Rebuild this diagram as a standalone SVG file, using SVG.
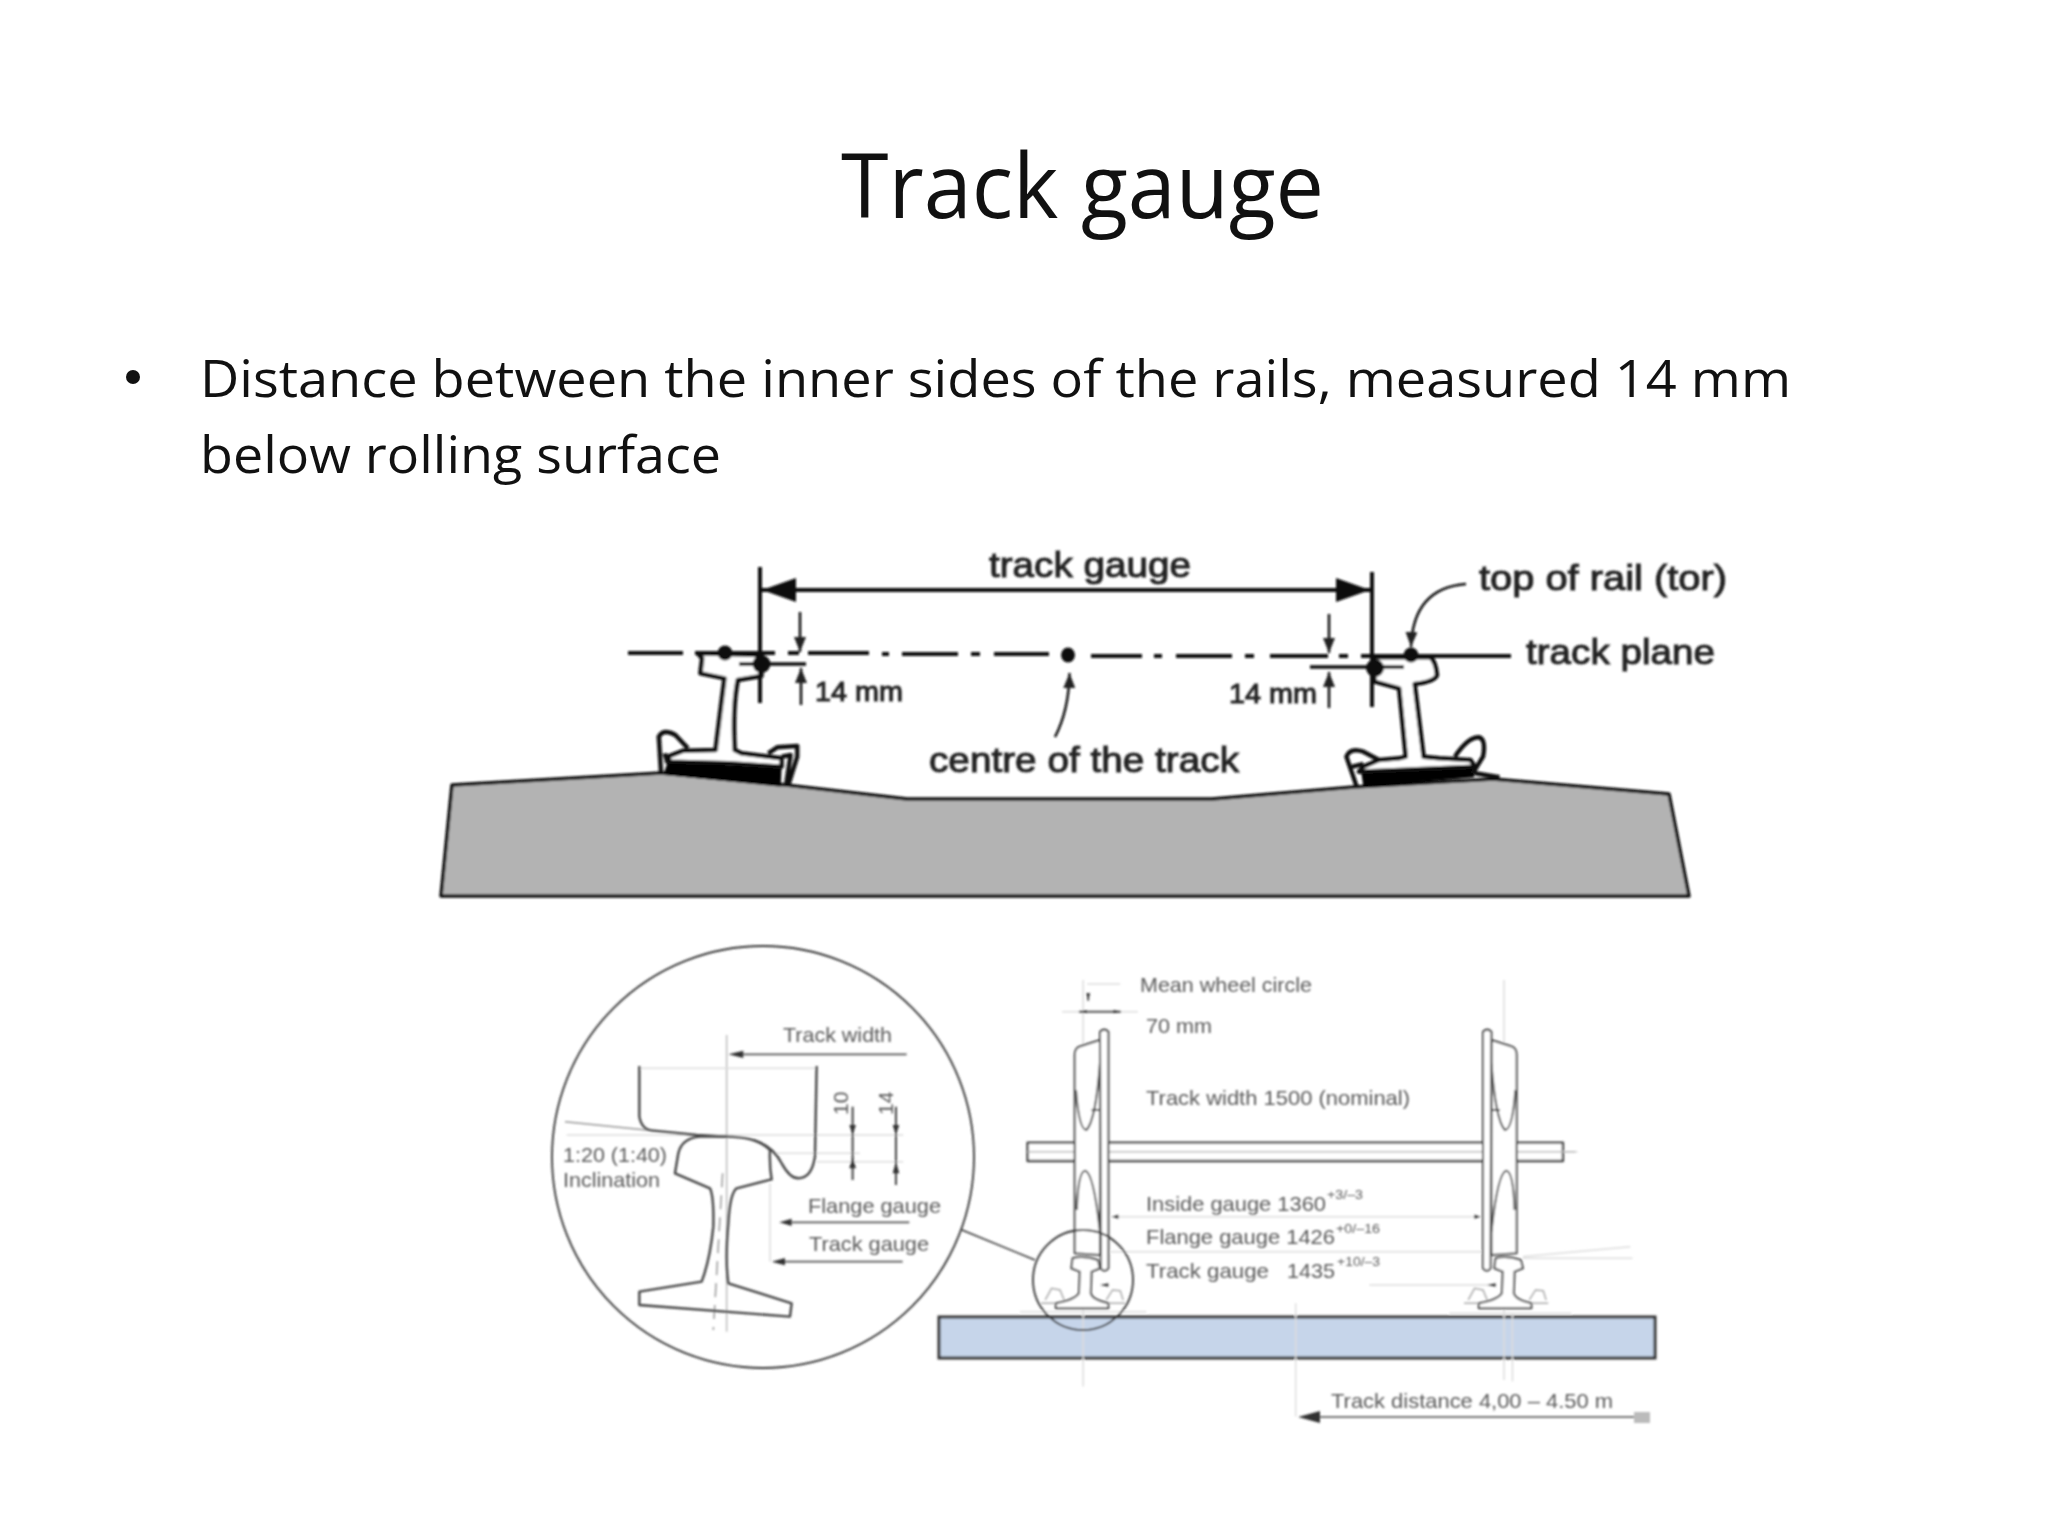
<svg xmlns="http://www.w3.org/2000/svg" xmlns:xlink="http://www.w3.org/1999/xlink" width="2048" height="1536" viewBox="0 0 2048 1536">
<style>
.head{font-family:"Open Sans","Noto Sans",sans-serif;fill:#111}
.lab{font-family:"Liberation Sans",Arial,sans-serif;fill:#222;stroke:#222;stroke-width:1}
.sm{font-family:"Liberation Sans",Arial,sans-serif;fill:#5a5a5a;font-size:21px}
.ns{vector-effect:non-scaling-stroke}
.k{fill:none;stroke:#111;stroke-width:4.500;stroke-linejoin:round;vector-effect:non-scaling-stroke}
.kw{fill:#fff;stroke:#111;stroke-width:4.500;stroke-linejoin:round;vector-effect:non-scaling-stroke}
.d{fill:none;stroke:#111;stroke-width:2.500}
.g{fill:none;stroke:#444;stroke-width:2;vector-effect:non-scaling-stroke;stroke-linejoin:round}
.gw{fill:#fff;stroke:#444;stroke-width:2;vector-effect:non-scaling-stroke;stroke-linejoin:round}
.f{fill:none;stroke:#ddd;stroke-width:1.500;vector-effect:non-scaling-stroke}
</style>
<defs>
<filter id="soft" x="-5%" y="-5%" width="110%" height="110%"><feGaussianBlur stdDeviation="0.8"/></filter>
<filter id="soft2" x="-5%" y="-5%" width="110%" height="110%"><feGaussianBlur stdDeviation="1"/></filter>
<marker id="big" markerWidth="36" markerHeight="24" refX="34" refY="12" orient="auto-start-reverse" markerUnits="userSpaceOnUse"><path d="M0,0 L34,12 L0,24 Z" fill="#111"/></marker>
<marker id="mid" markerWidth="16" markerHeight="12" refX="15" refY="6" orient="auto-start-reverse" markerUnits="userSpaceOnUse"><path d="M0,0 L15,6 L0,12 Z" fill="#222"/></marker>
<g id="wheel">
<path class="gw" d="M190,240 L145,258 Q130,262 130,285 L130,880 L190,885 Z"/>
<path class="g" d="M133,390 Q140,510 158,510 Q180,480 190,310 M190,450 L170,450 M135,750 Q138,632 155,632 Q175,640 190,815"/>
<path class="gw" d="M190,215 Q200,203 210,215 L210,925 Q200,940 192,925 Z"/>
</g>
<g id="smallrail">
<path class="gw" d="M125,895 Q150,885 185,900 L190,925 L170,935 L168,1000 Q172,1020 210,1030 L210,1045 L85,1045 L85,1030 Q130,1020 140,1000 L142,935 L122,925 Z"/>
<path class="f" style="stroke:#aaa" d="M60,1020 L75,985 L95,990 L105,1020 M205,1020 L220,990 L238,992 L245,1020 M50,1030 H85 M210,1030 H250"/>
</g>
</defs>
<rect width="2048" height="1536" fill="#fff"/>
<g id="title"><text class="head" x="841" y="218" font-size="90" textLength="483" lengthAdjust="spacingAndGlyphs">Track gauge</text></g>
<g id="body">
<circle cx="133" cy="377" r="7" fill="#111"/>
<text class="head" x="200" y="397" font-size="52" textLength="1591" lengthAdjust="spacingAndGlyphs">Distance between the inner sides of the rails, measured 14 mm</text>
<text class="head" x="200" y="473" font-size="52" textLength="521" lengthAdjust="spacingAndGlyphs">below rolling surface</text>
</g>
<g id="track-section" filter="url(#soft)">
<path d="M452,785 L661,773 L786,785 L907,799 L1212,799 L1354,787 L1493,779 L1669,794 L1689,896 L441,896 Z" fill="#b3b3b3" stroke="#111" stroke-width="3.500" stroke-linejoin="round"/>
<g id="rail-left" transform="translate(420 540) scale(.4464 .3333)">
<path d="M555,665 L810,685 L808,740 L545,704 Z" fill="#000"/>
<path class="k" d="M540,700 L535,590 Q545,565 572,585 L600,625 M548,640 L555,670 M780,640 L800,622 L845,618 L845,650 L825,735 M810,650 L830,645 L820,735"/>
<path class="kw" d="M622,340 L632,355 L628,400 L682,415 Q670,540 662,630 L590,632 L555,650 L560,665 L690,670 L810,680 L810,655 L720,640 L705,630 Q700,500 712,420 L765,408 L765,345 Z"/>
<path d="M715,372H775" stroke="#111" stroke-width="4" class="ns"/>
</g>
<g id="rail-right" transform="translate(1100 540) scale(.4464 .3333)">
<path d="M585,695 L840,680 L838,712 L590,740 Z" fill="#000"/>
<path class="k" d="M575,740 L552,650 Q560,622 590,635 L625,660 M565,680 L590,672 M795,650 Q825,590 850,592 Q865,600 858,650 L835,700 M840,700 L895,712"/>
<path class="kw" d="M612,352 L740,352 Q752,365 755,405 Q750,425 705,432 L725,650 L760,655 L830,660 L840,680 L580,695 L590,680 L625,660 L670,655 L685,650 L670,445 L615,425 Z"/>
</g>
<g id="track-lines">
<path d="M628,653H683M695,653H775M788,653H799M808,653H869M882,654H889M902,654H958M971,654H980M994,654H1049M1091,656H1142M1154,656H1162M1176,656H1232M1245,656H1254M1270,656H1328M1339,656H1348M1361,656H1511" stroke="#111" stroke-width="4" fill="none"/>
<path d="M760,567V703M1372,572V707" stroke="#111" stroke-width="4"/>
<path d="M762,590H1370" stroke="#111" stroke-width="4" marker-start="url(#big)" marker-end="url(#big)"/>
<path class="d" d="M741,664H806M1310,667H1404" style="stroke-width:3.500"/>
<path class="d" d="M800,612V652" marker-end="url(#mid)"/>
<path class="d" d="M801,705V668" marker-end="url(#mid)"/>
<path class="d" d="M1329,614V653" marker-end="url(#mid)"/>
<path class="d" d="M1329,708V672" marker-end="url(#mid)"/>
<path class="d" d="M1055,737Q1069,710 1069.500,673" marker-end="url(#mid)"/>
<path class="d" d="M1466,584Q1413,588 1411,647" stroke="#333" marker-end="url(#mid)"/>
<circle cx="725" cy="653" r="7.500" fill="#111"/><circle cx="761.500" cy="664" r="9" fill="#111"/>
<circle cx="1411" cy="655" r="7.500" fill="#111"/><circle cx="1375" cy="668" r="9" fill="#111"/>
<ellipse cx="1068" cy="655" rx="7" ry="7.500" fill="#111"/>
</g>
<g id="track-labels">
<text class="lab" x="989" y="577" font-size="35" textLength="202" lengthAdjust="spacingAndGlyphs">track gauge</text>
<text class="lab" x="1479" y="590" font-size="35" textLength="248" lengthAdjust="spacingAndGlyphs">top of rail (tor)</text>
<text class="lab" x="1526" y="664" font-size="35" textLength="189" lengthAdjust="spacingAndGlyphs">track plane</text>
<text class="lab" x="929" y="772" font-size="35" textLength="310" lengthAdjust="spacingAndGlyphs">centre of the track</text>
<text class="lab" x="815" y="701" font-size="28" textLength="88" lengthAdjust="spacingAndGlyphs">14 mm</text>
<text class="lab" x="1229" y="703" font-size="28" textLength="88" lengthAdjust="spacingAndGlyphs">14 mm</text>
</g>
</g>
<g id="detail-circle" filter="url(#soft2)">
<circle cx="763" cy="1157" r="211" fill="none" stroke="#333" stroke-width="1.800"/>
<path d="M962,1230L1035,1260" stroke="#333" stroke-width="1.500"/>
<g transform="translate(540 940) scale(.3333)">
<path class="f" d="M80,585H1090M700,640H960M830,665H1090M690,730V965"/>
<path class="g" style="stroke:#999;stroke-width:1.500" d="M75,545L340,572"/>
<path class="f" style="stroke:#bbb" d="M560,285V1175"/>
<path class="f" style="stroke:#999;stroke-dasharray:14 8" d="M548,700L520,1170"/>
<path class="f" d="M298,385H830"/>
<path class="g" style="stroke-width:2.400" d="M298,378 L298,530 Q305,570 340,572 L470,585 L560,590 M640,600 Q700,620 725,670 Q750,715 775,715 Q815,715 825,650 L830,378"/>
<path class="g" style="stroke-width:2.400" d="M415,640 Q425,595 480,590 L560,590 Q650,590 690,630 Q688,680 695,718 L590,745 Q570,760 565,850 Q555,960 565,1030 L755,1090 L750,1130 L298,1095 L298,1055 L485,1025 Q510,960 520,860 Q522,770 510,745 L405,700 Z"/>
<path class="g" d="M938,500V720M1068,500V735"/>
<path d="M928,555L938,585L948,555ZM928,685L938,650L948,685ZM1058,555L1068,585L1078,555ZM1058,700L1068,665L1078,700Z" fill="#333"/>
<path d="M1100,343H610" stroke="#555" stroke-width="1.800" class="ns"/><path d="M610,332L565,343L610,354Z" fill="#333"/>
<path d="M1108,847H755" stroke="#555" stroke-width="1.800" class="ns"/><path d="M755,836L718,847L755,858Z" fill="#333"/>
<path d="M1088,965H735" stroke="#555" stroke-width="1.800" class="ns"/><path d="M735,954L695,965L735,976Z" fill="#333"/>
</g>
<text class="sm" x="783" y="1042" textLength="109" lengthAdjust="spacingAndGlyphs">Track width</text>
<text class="sm" x="563" y="1162" textLength="104" lengthAdjust="spacingAndGlyphs">1:20 (1:40)</text>
<text class="sm" x="563" y="1187" textLength="97" lengthAdjust="spacingAndGlyphs">Inclination</text>
<text class="sm" x="808" y="1213" textLength="133" lengthAdjust="spacingAndGlyphs">Flange gauge</text>
<text class="sm" x="809" y="1251" textLength="120" lengthAdjust="spacingAndGlyphs">Track gauge</text>
<text class="sm" transform="translate(848 1115) rotate(-90)">10</text>
<text class="sm" transform="translate(893 1115) rotate(-90)">14</text>
</g>
<g id="wheelset" filter="url(#soft2)">
<rect id="sleeper" x="939" y="1317" width="716" height="41" fill="#c6d5ea" stroke="#333" stroke-width="3"/>
<g transform="translate(1020 960) scale(.4209 .3333)">
<path class="f" d="M150,60V1280M655,1030V1370M1150,60V1260M1170,1060V1265M160,72H238M100,155H280M215,770H1095M215,875H1100M1195,890L1450,860M1195,895H1455M830,975H1120M1290,575H1325M0,1055H300M1020,1060H1310"/>
<rect class="gw" x="18" y="548" width="1272" height="55" style="stroke-width:2.400"/>
<path class="f" d="M18,575H1320" style="stroke:#bbb"/>
<path class="g" d="M162,100V122M140,155H240" style="stroke:#555"/>
<path d="M157,100L162,118L167,100ZM140,155L158,150V160ZM240,155L222,150V160Z" fill="#333"/>
<path d="M218,770L234,764V776ZM1095,770L1079,764V776ZM190,975L210,970V980ZM1110,975L1130,970V980Z" fill="#333"/>
<use xlink:href="#wheel" href="#wheel"/>
<use xlink:href="#wheel" href="#wheel" transform="translate(1310 0) scale(-1 1)"/>
<use xlink:href="#smallrail" href="#smallrail"/>
<use xlink:href="#smallrail" href="#smallrail" transform="translate(1005 0)"/>
</g>
<circle cx="1083" cy="1280" r="50" fill="none" stroke="#333" stroke-width="1.800"/>
<path d="M1650,1417H1320" stroke="#777" stroke-width="2"/><path d="M1320,1411L1298,1417L1320,1423Z" fill="#333"/><rect x="1634" y="1412" width="16" height="11" fill="#bbb"/>
<text class="sm" x="1140" y="992" textLength="172" lengthAdjust="spacingAndGlyphs">Mean wheel circle</text>
<text class="sm" x="1146" y="1033" textLength="66" lengthAdjust="spacingAndGlyphs">70 mm</text>
<text class="sm" x="1146" y="1105" textLength="264" lengthAdjust="spacingAndGlyphs">Track width 1500 (nominal)</text>
<text class="sm" x="1146" y="1211" textLength="180" lengthAdjust="spacingAndGlyphs">Inside gauge 1360</text>
<text class="sm" x="1327" y="1199" style="font-size:12px" textLength="36" lengthAdjust="spacingAndGlyphs">+3/–3</text>
<text class="sm" x="1146" y="1244" textLength="189" lengthAdjust="spacingAndGlyphs">Flange gauge 1426</text>
<text class="sm" x="1336" y="1233" style="font-size:12px" textLength="44" lengthAdjust="spacingAndGlyphs">+0/–16</text>
<text class="sm" x="1146" y="1278" textLength="123" lengthAdjust="spacingAndGlyphs">Track gauge</text>
<text class="sm" x="1287" y="1278" textLength="48" lengthAdjust="spacingAndGlyphs">1435</text>
<text class="sm" x="1337" y="1266" style="font-size:12px" textLength="43" lengthAdjust="spacingAndGlyphs">+10/–3</text>
<text class="sm" x="1331" y="1408" textLength="282" lengthAdjust="spacingAndGlyphs">Track distance 4,00 – 4.50 m</text>
</g>
</svg>
